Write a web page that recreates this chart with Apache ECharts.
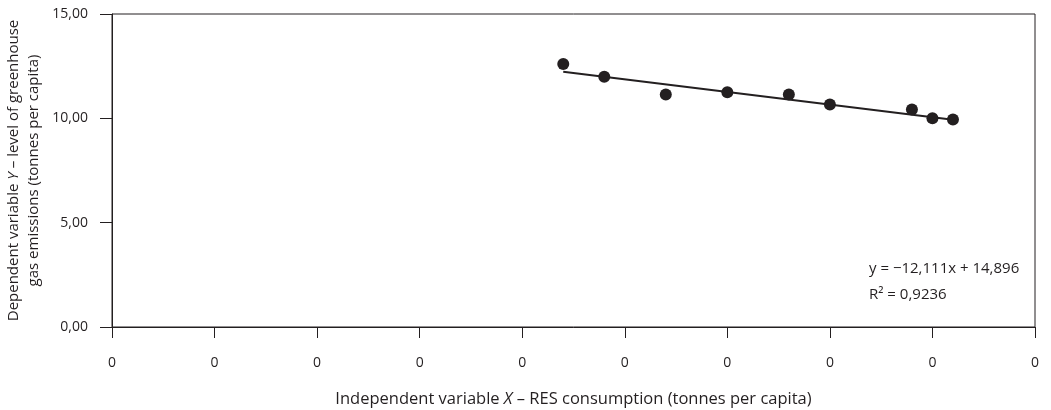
<!DOCTYPE html>
<html lang="en">
<head>
  <meta charset="UTF-8">
  <title>RES consumption vs greenhouse gas emissions</title>
  <style>
    html, body { margin: 0; padding: 0; background: #fff; }
  </style>
</head>
<body>
  <div id="main" style="width: 1051px; height: 410px"></div>
  <script src="https://cdn.jsdelivr.net/npm/echarts@6/dist/echarts.min.js"></script>
  <script>
    // RES consumption (tonnes per capita) and greenhouse gas emissions (tonnes per capita)
    const resConsumption = [0.220, 0.240, 0.270, 0.300, 0.330, 0.350, 0.390, 0.400, 0.410];
    const ghgEmissions = [12.60, 11.99, 11.14, 11.25, 11.14, 10.66, 10.42, 10.00, 9.94];
    // linear trend from the chart
    const slope = -12.111;
    const intercept = 14.896;
    const rSquared = '0,9236';

    const points = resConsumption.map((x, i) => [x, ghgEmissions[i]]);
    const xMin = Math.min(...resConsumption);
    const xMax = Math.max(...resConsumption);
    const trend = [[xMin, slope * xMin + intercept], [xMax, slope * xMax + intercept]];

    const font = '"Open Sans", "Noto Sans", sans-serif';
    const ink = '#231f20';
    const txt = size => ({ fontFamily: font, fontSize: size, color: ink });

    let myChart = echarts.init(document.getElementById('main'));
    let option = {
      animation: false,
      grid: {
        left: 112, right: 16, top: 14, bottom: 83,
        outerBoundsMode: 'none',
        containLabel: false,
        show: true, borderColor: ink, borderWidth: 1
      },
      xAxis: {
        type: 'value',
        min: 0, max: 0.45, interval: 0.05,
        splitLine: { show: false },
        axisLine: { lineStyle: { color: ink } },
        axisTick: { length: 11, lineStyle: { color: ink } },
        axisLabel: Object.assign({ margin: 29, formatter: v => v.toFixed(0) }, txt(14)),
        nameLocation: 'middle',
        nameGap: 64,
        name: '{a|Independent variable }{i|X}{a| – RES consumption (tonnes per capita)}',
        nameTextStyle: {
          rich: {
            a: txt(16.5),
            i: Object.assign({ fontStyle: 'italic' }, txt(16.5))
          }
        }
      },
      yAxis: {
        type: 'value',
        min: 0, max: 15, interval: 5,
        splitLine: { show: false },
        axisLine: { show: true, lineStyle: { color: ink } },
        axisTick: { show: true, length: 12, lineStyle: { color: ink } },
        axisLabel: Object.assign({ margin: 24, formatter: v => v.toFixed(2).replace('.', ',') }, txt(14)),
        nameLocation: 'middle',
        nameGap: 61,
        name: '{a|Dependent variable }{i|Y}{a| – level of greenhouse}\n{a|gas emissions (tonnes per capita)}',
        nameTextStyle: {
          align: 'center',
          rich: {
            a: Object.assign({ lineHeight: 20 }, txt(15)),
            i: Object.assign({ fontStyle: 'italic', lineHeight: 20 }, txt(15))
          }
        }
      },
      graphic: [{
        type: 'text',
        left: 869, top: 261,
        style: { text: 'y = −12,111x + 14,896', font: '15px ' + font, fill: ink }
      }, {
        type: 'text',
        left: 869, top: 287,
        style: { text: 'R² = ' + rSquared, font: '15px ' + font, fill: ink }
      }],
      series: [{
        type: 'line',
        data: trend,
        symbol: 'none',
        lineStyle: { color: ink, width: 2 },
        z: 2
      }, {
        type: 'scatter',
        data: points,
        symbolSize: 12,
        itemStyle: { color: ink, opacity: 1 },
        z: 3
      }]
    };
    myChart.setOption(option);
  </script>
</body>
</html>
